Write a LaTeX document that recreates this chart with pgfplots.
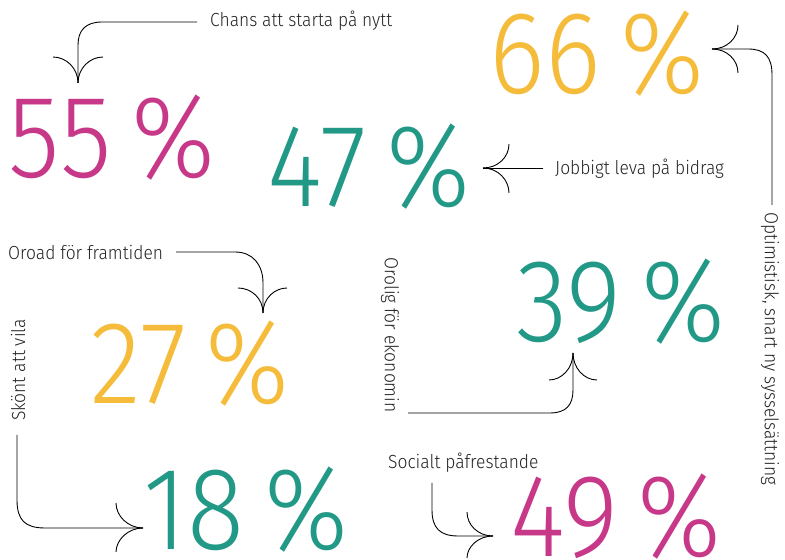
\documentclass[border=0pt]{standalone}
\usepackage{pgfplots}
\pgfplotsset{compat=1.18}
\usepackage{fontspec}
\setmainfont{Fira Sans}
\newfontfamily\numfont{Fira Sans Light}[FakeStretch=0.9]
\newfontfamily\labfont{Fira Sans Light}[FakeStretch=0.92]
\definecolor{cpink}{RGB}{199,56,136}
\definecolor{cteal}{RGB}{34,152,134}
\definecolor{cyellow}{RGB}{244,188,58}
\definecolor{ctext}{RGB}{35,35,35}
\tikzset{
  lab/.style={text=ctext, inner sep=0pt, font=\labfont\fontsize{19}{19}\selectfont},
  arr/.style={line width=0.9bp, black}
}
\pgfplotsset{
  pct/.style={draw=none, mark=none, point meta=explicit symbolic,
    nodes near coords={\numfont\fontsize{118}{118}\selectfont\pgfplotspointmeta\,\%},
    every node near coord/.append style={anchor=center, inner sep=0pt, text=#1}}
}
\begin{document}
\begin{tikzpicture}
\begin{axis}[scale only axis, width=785bp, height=560bp,
  xmin=0, xmax=785, ymin=0, ymax=560, y dir=reverse,
  hide axis, clip=false]
% values
\addplot[pct=cpink] table[meta=v] {
x y v
112 138 55
616 517 49
};
\addplot[pct=cteal] table[meta=v] {
x y v
369 167 47
621 302 39
246 510 18
};
\addplot[pct=cyellow] table[meta=v] {
x y v
597 54 66
190 364 27
};
% labels
\node[lab, anchor=west] at (axis cs:210,21) {Chans att starta på nytt};
\node[lab, anchor=west] at (axis cs:555,169) {Jobbigt leva på bidrag};
\node[lab, anchor=west] at (axis cs:8,252) {Oroad för framtiden};
\node[lab, rotate=-90] at (axis cs:390,335) {Orolig för ekonomin};
\node[lab, rotate=-90] at (axis cs:770,349) {Optimistisk, snart ny sysselsättning};
\node[lab, rotate=90] at (axis cs:18,370) {Skönt att vila};
\node[lab, anchor=west] at (axis cs:388,463) {Socialt påfrestande};
% arrows
\draw[arr] (axis cs:197,22) -- (axis cs:102,22) .. controls (axis cs:86,22) and (axis cs:78,30) .. (axis cs:78,45) -- (axis cs:78,83);
\draw[arr] (axis cs:53,57) .. controls (axis cs:66,57) and (axis cs:78,68) .. (axis cs:78,83);
\draw[arr] (axis cs:103,57) .. controls (axis cs:90,57) and (axis cs:78,68) .. (axis cs:78,83);
%
\draw[arr] (axis cs:543,168) -- (axis cs:483,168);
\draw[arr] (axis cs:509,144) .. controls (axis cs:509,157) and (axis cs:498,168) .. (axis cs:483,168);
\draw[arr] (axis cs:509,193) .. controls (axis cs:509,180) and (axis cs:498,168) .. (axis cs:483,168);
%
\draw[arr] (axis cs:772,205) -- (axis cs:772,75) .. controls (axis cs:772,57) and (axis cs:765,49) .. (axis cs:748,49) -- (axis cs:712,49);
\draw[arr] (axis cs:738,25) .. controls (axis cs:738,38) and (axis cs:727,49) .. (axis cs:712,49);
\draw[arr] (axis cs:738,73) .. controls (axis cs:738,60) and (axis cs:727,49) .. (axis cs:712,49);
%
\draw[arr] (axis cs:176,252) -- (axis cs:235,252) .. controls (axis cs:253,252) and (axis cs:263,265) .. (axis cs:263,283) -- (axis cs:263,313);
\draw[arr] (axis cs:238,288) .. controls (axis cs:251,288) and (axis cs:263,298) .. (axis cs:263,313);
\draw[arr] (axis cs:287,288) .. controls (axis cs:275,288) and (axis cs:263,298) .. (axis cs:263,313);
%
\draw[arr] (axis cs:408,413) -- (axis cs:550,413) .. controls (axis cs:566,413) and (axis cs:573,405) .. (axis cs:573,390) -- (axis cs:573,353);
\draw[arr] (axis cs:549,380) .. controls (axis cs:562,380) and (axis cs:573,368) .. (axis cs:573,353);
\draw[arr] (axis cs:597,380) .. controls (axis cs:584,380) and (axis cs:573,368) .. (axis cs:573,353);
%
\draw[arr] (axis cs:17,435) -- (axis cs:17,500) .. controls (axis cs:17,520) and (axis cs:25,528) .. (axis cs:45,528) -- (axis cs:143,528);
\draw[arr] (axis cs:116,503) .. controls (axis cs:116,516) and (axis cs:128,528) .. (axis cs:143,528);
\draw[arr] (axis cs:116,552) .. controls (axis cs:116,540) and (axis cs:128,528) .. (axis cs:143,528);
%
\draw[arr] (axis cs:432,483) -- (axis cs:432,510) .. controls (axis cs:432,528) and (axis cs:440,536) .. (axis cs:458,536) -- (axis cs:493,536);
\draw[arr] (axis cs:467,512) .. controls (axis cs:467,525) and (axis cs:478,536) .. (axis cs:493,536);
\draw[arr] (axis cs:467,558) .. controls (axis cs:467,547) and (axis cs:478,536) .. (axis cs:493,536);
\end{axis}
\pgfresetboundingbox
\path (current axis.south west) rectangle (current axis.north east);
\end{tikzpicture}
\end{document}
